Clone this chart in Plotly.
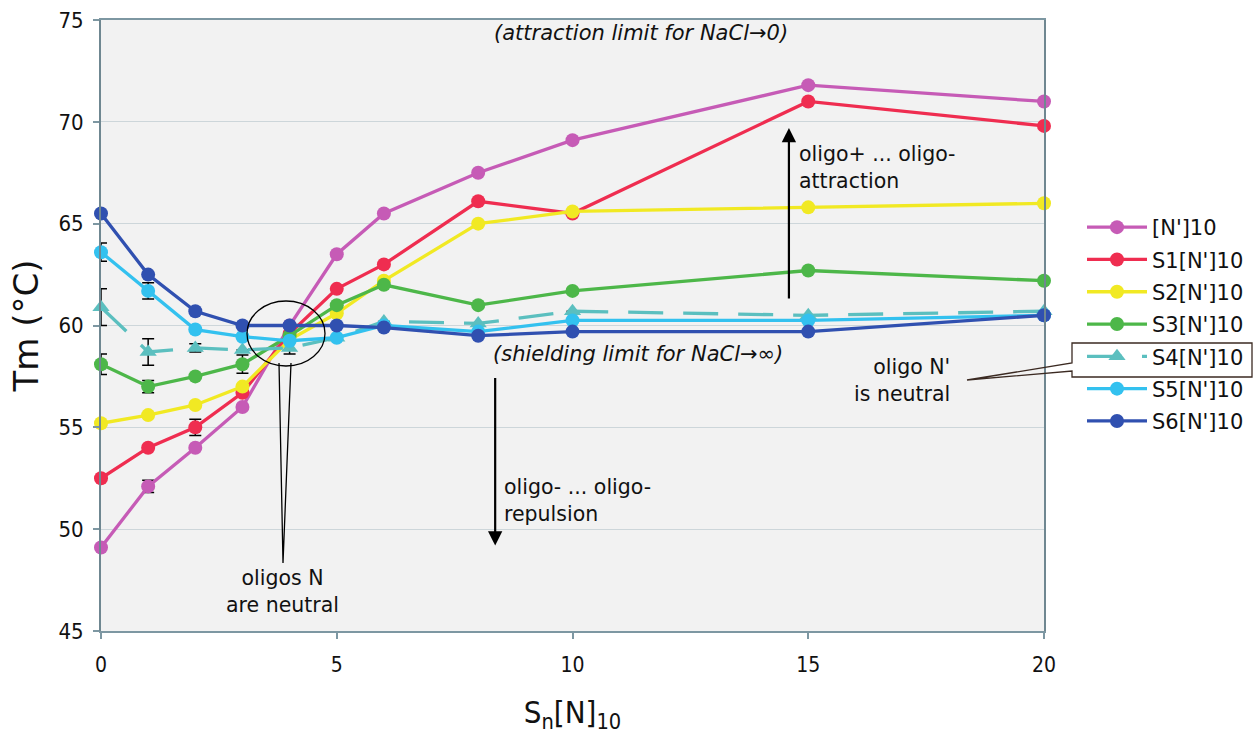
import plotly.graph_objects as go

# ---- data ----
x_vals = [0, 1, 2, 3, 4, 5, 6, 8, 10, 15, 20]
series_names = ["[N']10", "S1[N']10", "S2[N']10", "S3[N']10", "S4[N']10", "S5[N']10", "S6[N']10"]
y_N10 = [49.1, 52.1, 54.0, 56.0, 60.0, 63.5, 65.5, 67.5, 69.1, 71.8, 71.0]
y_S1 = [52.5, 54.0, 55.0, 56.7, 59.6, 61.8, 63.0, 66.1, 65.5, 71.0, 69.8]
y_S2 = [55.2, 55.6, 56.1, 57.0, 59.3, 60.6, 62.2, 65.0, 65.6, 65.8, 66.0]
y_S3 = [58.1, 57.0, 57.5, 58.1, 59.5, 61.0, 62.0, 61.0, 61.7, 62.7, 62.2]
y_S4 = [60.9, 58.7, 58.9, 58.8, 58.9, 59.4, 60.2, 60.1, 60.7, 60.5, 60.7]
y_S5 = [63.6, 61.7, 59.8, 59.45, 59.25, 59.4, 60.0, 59.7, 60.25, 60.25, 60.5]
y_S6 = [65.5, 62.5, 60.7, 60.0, 60.0, 60.0, 59.9, 59.5, 59.7, 59.7, 60.5]

err_N10 = [0, 0.3, 0, 0, 0, 0, 0, 0, 0, 0, 0]
err_S1 = [0, 0, 0.4, 0, 0, 0, 0, 0, 0, 0, 0]
err_S2 = [0, 0, 0, 0, 0, 0, 0, 0, 0, 0, 0]
err_S3 = [0.5, 0.3, 0, 0.45, 0, 0, 0, 0, 0, 0, 0]
err_S4 = [0.9, 0.65, 0.2, 0, 0.3, 0, 0, 0, 0, 0, 0]
err_S5 = [0.45, 0.4, 0, 0, 0, 0, 0, 0, 0, 0, 0]
err_S6 = [0, 0, 0, 0, 0, 0, 0, 0, 0, 0, 0]

colors = ["#c65bb6", "#ef2d50", "#f1e923", "#4db749", "#5bbfbf", "#33c1ef", "#3050b0"]
x_ticks = [0, 5, 10, 15, 20]
y_ticks = [45, 50, 55, 60, 65, 70, 75]

all_y = [y_N10, y_S1, y_S2, y_S3, y_S4, y_S5, y_S6]
all_err = [err_N10, err_S1, err_S2, err_S3, err_S4, err_S5, err_S6]

# plot-area pixel helpers (for annotation placement)
L, R, T, B = 101, 1044, 20, 631
def px(x):
    return (x - L) / (R - L)
def py(y):
    return (B - y) / (B - T)

fig = go.Figure()
for i, (name, ys, es, c) in enumerate(zip(series_names, all_y, all_err, colors)):
    is_s4 = (i == 4)
    fig.add_trace(go.Scatter(
        x=x_vals, y=ys, name=name, mode="lines+markers",
        legendgroup=name,
        line=dict(color=c, width=3.3, dash="35px,20px" if is_s4 else "solid"),
        marker=dict(color=c, size=15 if is_s4 else 14,
                    symbol="triangle-up" if is_s4 else "circle"),
        error_y=dict(type="data", array=es, visible=True, color="black",
                     thickness=1.5, width=6),
        cliponaxis=False,
    ))

xtick_font = dict(family="DejaVu Sans Condensed, Liberation Sans Narrow, DejaVu Sans, sans-serif",
                  size=21, color="#111")
ytick_font = dict(family="DejaVu Sans Condensed, Liberation Sans Narrow, DejaVu Sans, sans-serif",
                  size=22, color="#111")
fig.update_xaxes(range=[0, 20], tickvals=x_ticks, ticks="outside", ticklen=6,
                 tickcolor="#7d97a2", tickwidth=1.5,
                 showline=True, linecolor="#7d97a2", linewidth=2, mirror=True,
                 showgrid=False, zeroline=False, tickfont=xtick_font, ticklabelstandoff=8,
                 title=dict(text="S<sub>n</sub>[N]<sub>10</sub>",
                            font=dict(family="DejaVu Sans Condensed, DejaVu Sans, sans-serif",
                                      size=31, color="#111"), standoff=25))
fig.update_yaxes(range=[45, 75], tickvals=y_ticks, ticks="outside", ticklen=6,
                 tickcolor="#7d97a2", tickwidth=1.5,
                 showline=True, linecolor="#6f8791", linewidth=2, mirror=True,
                 showgrid=True, gridcolor="#cdd6da", gridwidth=1.2, zeroline=False,
                 tickfont=ytick_font, ticklabelstandoff=5,
                 title=dict(text="Tm (°C)", font=dict(family="DejaVu Sans, sans-serif",
                                                      size=34, color="#111"), standoff=10))

ann_font = dict(family="DejaVu Sans, Verdana, sans-serif", size=20.5, color="#111")
ital_font = dict(family="DejaVu Sans, Verdana, sans-serif", size=21, color="#111")
annotations = [
    dict(x=px(641), y=py(33), xref="paper", yref="paper", text="<i>(attraction limit for NaCl→0)</i>",
         showarrow=False, font=ital_font, xanchor="center", yanchor="middle"),
    dict(x=px(638), y=py(354), xref="paper", yref="paper", text="<i>(shielding limit for NaCl→∞)</i>",
         showarrow=False, font=ital_font, xanchor="center", yanchor="middle"),
    dict(x=px(797), y=py(167), xref="paper", yref="paper", text="oligo+ ... oligo-<br>attraction",
         showarrow=False, font=ann_font, xanchor="left", yanchor="middle", align="left"),
    dict(x=px(502), y=py(500), xref="paper", yref="paper", text="oligo- ... oligo-<br>repulsion",
         showarrow=False, font=ann_font, xanchor="left", yanchor="middle", align="left"),
    dict(x=px(282), y=py(591), xref="paper", yref="paper", text="oligos N<br>are neutral",
         showarrow=False, font=ann_font, xanchor="center", yanchor="middle", align="center"),
    dict(x=px(952), y=py(380), xref="paper", yref="paper", text="oligo N'<br>is neutral",
         showarrow=False, font=ann_font, xanchor="right", yanchor="middle", align="right"),
    # arrows
    dict(x=14.59, y=69.7, ax=14.59, ay=61.25, xref="x", yref="y", axref="x", ayref="y",
         text="", showarrow=True, arrowhead=2, arrowsize=1.3, arrowwidth=2.2, arrowcolor="black"),
    dict(x=8.36, y=49.2, ax=8.36, ay=57.5, xref="x", yref="y", axref="x", ayref="y",
         text="", showarrow=True, arrowhead=2, arrowsize=1.3, arrowwidth=2.2, arrowcolor="black"),
]

shapes = [
    # callout circle around crossing point
    dict(type="circle", xref="paper", yref="paper", x0=px(247), x1=px(325), y0=py(366), y1=py(301),
         line=dict(color="black", width=1.3), layer="above"),
    dict(type="path", xref="paper", yref="paper",
         path=f"M {px(279)},{py(363)} L {px(283)},{py(563)} L {px(291)},{py(363)}",
         line=dict(color="black", width=1.3), layer="above"),
    # callout box around S4 legend entry
    dict(type="path", xref="paper", yref="paper",
         path=(f"M {px(1072)},{py(343)} L {px(1252)},{py(343)} L {px(1252)},{py(377)} "
               f"L {px(1072)},{py(377)} L {px(1072)},{py(371)} L {px(967)},{py(380)} "
               f"L {px(1072)},{py(363)} Z"),
         line=dict(color="#3b2a22", width=1.3), layer="above"),
]

fig.update_layout(
    width=1253, height=736,
    margin=dict(l=L, r=1253 - R, t=T, b=736 - B, autoexpand=False),
    paper_bgcolor="white", plot_bgcolor="#f2f2f2",
    showlegend=True,
    legend=dict(x=px(1082), y=py(207), xanchor="left", yanchor="top",
                font=dict(family="DejaVu Sans, Verdana, sans-serif", size=21, color="#111"),
                bgcolor="rgba(0,0,0,0)", traceorder="grouped", tracegroupgap=2,
                itemwidth=60),
    annotations=annotations, shapes=shapes,
)

fig.write_html("out.html")
